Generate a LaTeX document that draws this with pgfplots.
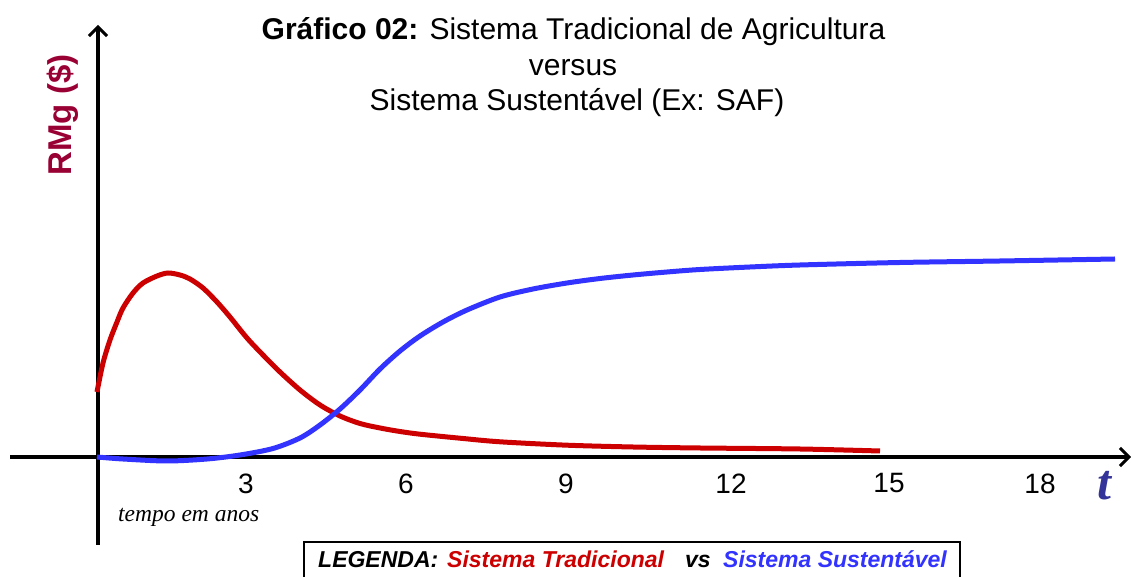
\documentclass[border=0pt]{standalone}
\usepackage{pgfplots}
\pgfplotsset{compat=1.18}
\usetikzlibrary{arrows.meta}
\usepackage{fontspec}
\setmainfont{Liberation Sans}
\newfontfamily\timesfont{Liberation Serif}
\definecolor{tradred}{HTML}{CC0000}
\definecolor{sustblue}{HTML}{3333FF}
\definecolor{rmgred}{HTML}{990033}
\definecolor{tblue}{HTML}{333399}
\begin{document}
\begin{tikzpicture}
\begin{axis}[
  x=1pt, y=1pt,
  xmin=-88, xmax=1033, ymin=-88, ymax=432,
  axis lines=middle,
  axis line style={line width=3.5pt, -{Straight Barb[length=9pt,width=18pt,line width=3pt]}},
  xtick={148,308,468,633,791,942},
  xticklabels={3,6,9,12,15,18},
  ytick=\empty,
  major tick length=0pt,
  /pgf/number format/assume math mode=true,
  xticklabel style={font=\fontsize{28}{30}\selectfont, yshift=-13pt},
  clip=false,
]
\addplot[tradred, line width=5pt, smooth, tension=0.5] coordinates {
(-1,65) (5,94) (12,117) (19,135) (25,149) (35,164) (45,174) (59,181) (70,184)
(82,182) (92,178) (105,169) (119,155) (132,140) (149,119) (165,102) (182,85)
(202,67) (222,52) (242,41) (262,33.5) (282,29) (302,25.5) (322,22.8) (362,18.8)
(402,15.2) (469,11.8) (535,10) (602,9) (702,8) (782,6)
};
\addplot[sustblue, line width=5pt, smooth, tension=0.5] coordinates {
(-1,0) (25,-2) (69,-4) (109,-2) (142,2) (175,8.5) (202,19) (222,32) (242,48)
(262,67) (282,88) (302,106) (322,121) (345,135) (369,147) (402,160) (435,168)
(469,174) (502,178.5) (535,182) (569,185) (602,187.5) (652,190) (702,192)
(802,194.5) (902,196) (1017,198)
};
% titles and labels
\node[anchor=base, font=\fontsize{30}{34}\selectfont] at (axis cs:475.5,417) {\textbf{Gráfico 02:} Sistema Tradicional de Agricultura};
\node[anchor=base, font=\fontsize{30}{34}\selectfont] at (axis cs:475,381) {versus};
\node[anchor=base, font=\fontsize{30}{34}\selectfont] at (axis cs:479,346) {Sistema Sustentável (Ex: SAF)};
\node[anchor=base, rotate=90, text=rmgred, font=\fontsize{33}{36}\selectfont\bfseries] at (axis cs:-27,342) {RMg (\$)};
\node[anchor=base west, text=tblue, font=\fontsize{50}{56}\selectfont\timesfont\bfseries\itshape, inner sep=0pt] at (axis cs:999,-43) {t};
\node[anchor=base west, font=\fontsize{23.5}{26}\selectfont\timesfont\itshape, inner sep=0pt] at (axis cs:20,-65) {tempo em anos};
% legend box
\draw[line width=2pt] (axis cs:206,-135) -- (axis cs:206,-85) -- (axis cs:862,-85) -- (axis cs:862,-135);
\node[anchor=base west, inner sep=0pt, font=\fontsize{23}{26}\selectfont\bfseries\itshape] at (axis cs:220,-111) {LEGENDA:};
\node[anchor=base west, inner sep=0pt, text=tradred, font=\fontsize{23}{26}\selectfont\bfseries\itshape] at (axis cs:349,-111) {Sistema Tradicional};
\node[anchor=base west, inner sep=0pt, font=\fontsize{23}{26}\selectfont\bfseries\itshape] at (axis cs:587,-111) {vs};
\node[anchor=base west, inner sep=0pt, text=sustblue, font=\fontsize{23}{26}\selectfont\bfseries\itshape] at (axis cs:625,-111) {Sistema Sustentável};
\coordinate (bl) at (axis cs:-98,-120);
\coordinate (tr) at (axis cs:1033,457);
\end{axis}
\pgfresetboundingbox
\path[use as bounding box] (bl) rectangle (tr);
\end{tikzpicture}
\end{document}
